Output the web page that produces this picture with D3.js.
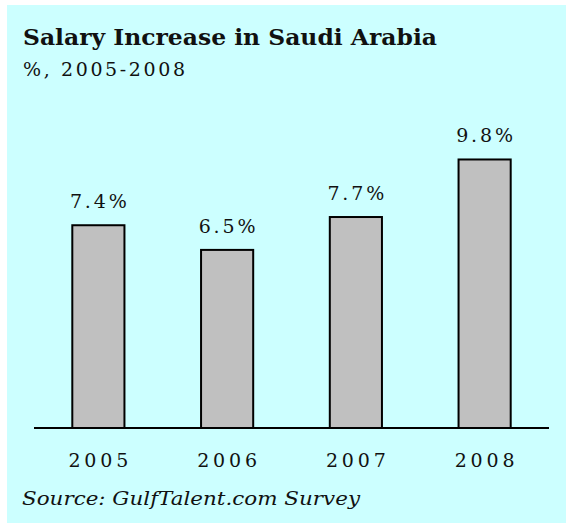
<!DOCTYPE html>
<meta charset="utf-8">
<style>
    body {
        margin: 0;
        padding: 0;
        background: #ffffff;
    }

    svg {
        display: block;
    }

    text {
        font-family: "DejaVu Serif", "Liberation Serif", serif;
        fill: #111111;
    }

    .bars rect {
        fill: #c0c0c0;
        stroke: #000000;
        stroke-width: 2px;
    }
</style>
<svg width="566" height="523"></svg>
<script src="https://d3js.org/d3.v7.min.js"></script>
<script>
    var years = ["2005", "2006", "2007", "2008"];
    var increase = [7.4, 6.5, 7.7, 9.8];
    var valueLabels = ["7.4%", "6.5%", "7.7%", "9.8%"];

    var svg = d3.select("svg");

    // panel background
    svg.append("rect")
        .attr("x", 7)
        .attr("y", 5)
        .attr("width", 559)
        .attr("height", 518)
        .attr("fill", "#ccffff");

    var x = d3.scaleBand()
        .domain(years)
        .range([34, 549])
        .paddingInner(0.595)
        .paddingOuter(0.2975);

    var y = d3.scaleLinear()
        .domain([0, 10])
        .range([428, 154]);

    svg.append("g")
        .attr("class", "bars")
        .selectAll("rect")
        .data(increase)
        .enter().append("rect")
        .attr("x", function(d, i) {
            return x(years[i]);
        })
        .attr("y", function(d) {
            return y(d);
        })
        .attr("width", x.bandwidth())
        .attr("height", function(d) {
            return y(0) - y(d);
        });

    // value labels
    svg.append("g")
        .selectAll("text")
        .data(increase)
        .enter().append("text")
        .attr("x", function(d, i) {
            return x(years[i]) + x.bandwidth() / 2;
        })
        .attr("y", function(d) {
            return y(d) - 17;
        })
        .attr("text-anchor", "middle")
        .attr("font-size", 19)
        .attr("textLength", 57)
        .attr("lengthAdjust", "spacing")
        .text(function(d, i) {
            return valueLabels[i];
        });

    // baseline
    var axis = d3.axisBottom(x).tickSize(0).tickPadding(29);
    var axisG = svg.append("g")
        .attr("transform", "translate(0," + y(0) + ")")
        .call(axis);
    axisG.select(".domain")
        .attr("stroke", "#000")
        .attr("stroke-width", 2)
        .attr("d", "M34,0H549");
    axisG.selectAll(".tick text")
        .attr("font-family", "DejaVu Serif, serif")
        .attr("font-size", 19)
        .attr("fill", "#000")
        .attr("dy", null)
        .attr("y", 39)
        .attr("textLength", 60)
        .attr("lengthAdjust", "spacing");

    svg.append("text")
        .attr("x", 23)
        .attr("y", 45)
        .attr("font-size", 22)
        .attr("font-weight", "bold")
        .attr("textLength", 414)
        .attr("lengthAdjust", "spacingAndGlyphs")
        .text("Salary Increase in Saudi Arabia");

    svg.append("text")
        .attr("x", 23)
        .attr("y", 76)
        .attr("font-size", 19)
        .attr("textLength", 162)
        .attr("lengthAdjust", "spacing")
        .text("%, 2005-2008");

    svg.append("text")
        .attr("x", 22)
        .attr("y", 505)
        .attr("font-size", 19)
        .attr("font-style", "italic")
        .attr("textLength", 338)
        .attr("lengthAdjust", "spacingAndGlyphs")
        .text("Source: GulfTalent.com Survey");
</script>
